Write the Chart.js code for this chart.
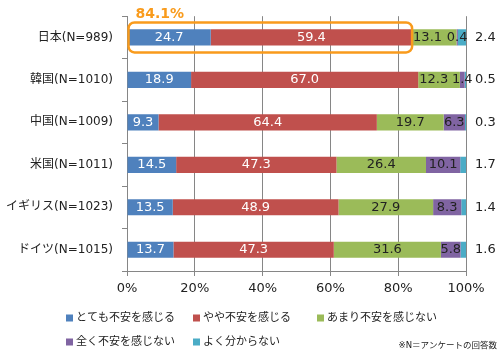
<!DOCTYPE html>
<html>
<head>
<meta charset="utf-8">
<script src="https://cdn.jsdelivr.net/npm/chart.js@4"></script>
<style>body{margin:0;background:#fff}</style>
</head>
<body>
<canvas id="myChart" width="500" height="361"></canvas>
<script>
// data
const countries = ['日本(N=989)', '韓国(N=1010)', '中国(N=1009)', '米国(N=1011)', 'イギリス(N=1023)', 'ドイツ(N=1015)'];
const seriesNames = ['とても不安を感じる', 'やや不安を感じる', 'あまり不安を感じない', '全く不安を感じない', 'よく分からない'];
const veryAnxious     = [24.7, 18.9, 9.3, 14.5, 13.5, 13.7];
const somewhatAnxious = [59.4, 67.0, 64.4, 47.3, 48.9, 47.3];
const notVeryAnxious  = [13.1, 12.3, 19.7, 26.4, 27.9, 31.6];
const notAtAllAnxious = [0.4, 1.4, 6.3, 10.1, 8.3, 5.8];
const dontKnow        = [2.4, 0.5, 0.3, 1.7, 1.4, 1.6];
const noteText = '※N＝アンケートの回答数';

const FONT = '"DejaVu Sans", "Noto Sans CJK JP", sans-serif';
const COLORS = ['#4F81BD', '#C0504D', '#9BBB59', '#8064A2', '#4BACC6'];
const LABEL_COLORS = ['#fff', '#fff', '#222', '#222', '#222'];
const ORANGE = '#F99B1C';
const GRID = '#868686';

Chart.defaults.font.family = FONT;
Chart.defaults.color = '#222';

const seriesValues = [veryAnxious, somewhatAnxious, notVeryAnxious, notAtAllAnxious, dontKnow];

const overlay = {
  id: 'overlay',
  afterDatasetsDraw(chart) {
    const ctx = chart.ctx;
    const area = chart.chartArea;
    const last = chart.data.datasets.length - 1;
    ctx.save();
    ctx.font = '13px ' + FONT;
    ctx.textBaseline = 'middle';

    // inside labels, per bar; a label that would run into the next one is pushed to its segment start
    chart.data.labels.forEach((_, j) => {
      const items = [];
      for (let i = 0; i < last; i++) {
        const bar = chart.getDatasetMeta(i).data[j];
        const txt = chart.data.datasets[i].data[j].toFixed(1);
        const w = ctx.measureText(txt).width;
        const cx = (bar.x + bar.base) / 2;
        items.push({ txt, w, cx, start: bar.base, y: bar.y, color: LABEL_COLORS[i] });
      }
      for (let k = 0; k < items.length - 1; k++) {
        const a = items[k], b = items[k + 1];
        if (a.cx + a.w / 2 > b.cx - b.w / 2) a.cx = Math.min(a.cx, a.start + 1 + a.w / 2);
      }
      items.forEach(it => {
        ctx.textAlign = 'center';
        ctx.fillStyle = it.color;
        ctx.fillText(it.txt, it.cx, it.y);
      });
      const lastBar = chart.getDatasetMeta(last).data[j];
      ctx.textAlign = 'left';
      ctx.fillStyle = '#222';
      ctx.fillText(chart.data.datasets[last].data[j].toFixed(1), area.right + 9, lastBar.y);
    });

    // highlight box around Japan's anxious share
    const xs = chart.scales.x;
    const yMid = chart.getDatasetMeta(0).data[0].y;
    const total = veryAnxious[0] + somewhatAnxious[0];
    const left = xs.getPixelForValue(0) + 1.5;
    const right = xs.getPixelForValue(total);
    ctx.beginPath();
    ctx.roundRect(left, yMid - 15, right - left, 30, 6);
    ctx.lineWidth = 2.5;
    ctx.strokeStyle = ORANGE;
    ctx.stroke();
    ctx.font = 'bold 14px ' + FONT;
    ctx.fillStyle = ORANGE;
    ctx.textAlign = 'left';
    ctx.fillText(total.toFixed(1) + '%', left + 7, area.top - 1.5);
    ctx.restore();
  },
  afterDraw(chart) {
    const ctx = chart.ctx;
    ctx.save();
    // legend, two rows as in the original
    const cols = [66, 193, 317];
    const rows = [318, 342];
    ctx.font = '11px ' + FONT;
    ctx.textBaseline = 'middle';
    ctx.textAlign = 'left';
    chart.data.datasets.forEach((ds, i) => {
      const x = cols[i < 3 ? i : i - 3];
      const y = rows[i < 3 ? 0 : 1];
      ctx.fillStyle = ds.backgroundColor;
      ctx.fillRect(x, y - 3.5, 7, 7);
      ctx.fillStyle = '#222';
      ctx.fillText(ds.label, x + 10, y);
    });
    ctx.font = '8.5px ' + FONT;
    ctx.textAlign = 'right';
    ctx.fillText(noteText, 497, 346);
    ctx.restore();
  }
};

const config = {
  type: 'bar',
  data: {
    labels: countries,
    datasets: seriesNames.map((name, i) => ({
      label: name,
      data: seriesValues[i],
      backgroundColor: COLORS[i],
      borderWidth: 0,
      barPercentage: 0.38,
      categoryPercentage: 1
    }))
  },
  options: {
    indexAxis: 'y',
    responsive: false,
    animation: false,
    layout: { padding: { left: 0, right: 34, top: 15, bottom: 0 } },
    scales: {
      x: {
        stacked: true,
        min: 0,
        max: 100,
        afterFit(scale) { scale.height = 90; },
        ticks: { stepSize: 20, padding: 5, font: { size: 13 }, callback: v => v + '%' },
        grid: { color: GRID, tickLength: 5 },
        border: { color: GRID }
      },
      y: {
        stacked: true,
        afterFit(scale) { scale.width = 127; },
        ticks: { padding: 9, font: { size: 12 } },
        grid: { drawOnChartArea: false, offset: true, tickLength: 5, color: GRID },
        border: { color: GRID }
      }
    },
    plugins: {
      legend: { display: false },
      tooltip: { enabled: false }
    }
  },
  plugins: [overlay]
};

const myChart = new Chart(document.getElementById('myChart').getContext('2d'), config);
</script>
</body>
</html>
